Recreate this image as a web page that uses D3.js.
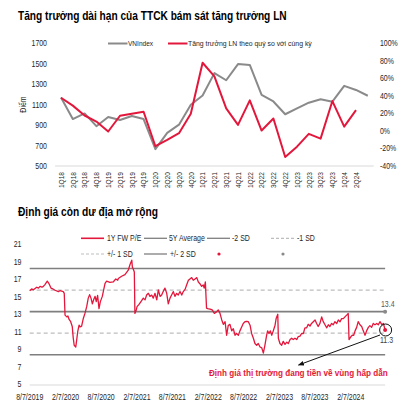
<!DOCTYPE html>
<html><head><meta charset="utf-8">
<script src="https://cdn.jsdelivr.net/npm/d3@7"></script>
<style>
body{margin:0;background:#fff}
svg text{font-family:'Liberation Sans',Arial,sans-serif;fill:#262626}
</style>
</head><body>
<svg id="c" width="403" height="407"></svg>
<script>
// ---------- Chart 1 data ----------
const categories = ["1Q18","2Q18","3Q18","4Q18","1Q19","2Q19","3Q19","4Q19","1Q20","2Q20","3Q20","4Q20","1Q21","2Q21","3Q21","4Q21","1Q22","2Q22","3Q22","4Q22","1Q23","2Q23","3Q23","4Q23","1Q24","2Q24","3Q24"];
const tickLabels = ["1Q18","2Q18","3Q18","4Q18","1Q19","2Q19","3Q19","4Q19","1Q20","2Q20","3Q20","4Q20","1Q21","2Q21","3Q21","4Q21","1Q22","2Q22","3Q22","4Q22","1Q23","2Q23","3Q23","4Q23","1Q24","2Q24"];
const vnindex = [1170,960,1015,890,980,950,990,960,665,825,905,1100,1190,1410,1340,1498,1490,1197,1132,1007,1064,1120,1154,1130,1285,1245,1188];
const profitGrowth = [38,29,17.7,10.8,-0.6,17.4,19.7,22,-17.4,-10.2,-2.5,19.7,78,62.5,25.8,7,35,0.5,14.3,-29.7,-17.9,-3.3,-8.7,34.2,5,23.9];
const leftTicks = [500,700,900,1100,1300,1500,1700];
const rightTicks = [-40,-20,0,20,40,60,80,100];

// ---------- Chart 2 data ----------
const peDates = ["2019-08-07","2019-08-17","2019-08-26","2019-09-12","2019-09-21","2019-09-29","2019-10-09","2019-10-16","2019-10-24","2019-11-05","2019-11-14","2019-11-24","2019-12-04","2019-12-15","2020-01-01","2020-01-09","2020-01-18","2020-01-26","2020-01-31","2020-02-04","2020-02-13","2020-02-19","2020-02-24","2020-03-04","2020-03-12","2020-03-17","2020-03-22","2020-03-30","2020-04-04","2020-04-09","2020-04-16","2020-04-21","2020-04-29","2020-05-08","2020-05-16","2020-05-25","2020-06-02","2020-06-09","2020-06-16","2020-06-23","2020-07-01","2020-07-07","2020-07-13","2020-07-20","2020-07-27","2020-08-03","2020-08-13","2020-08-20","2020-08-27","2020-09-04","2020-09-21","2020-10-08","2020-10-21","2020-10-31","2020-11-03","2020-11-20","2020-12-07","2020-12-24","2021-01-02","2021-01-11","2021-01-14","2021-01-19","2021-01-24","2021-01-27","2021-02-03","2021-02-07","2021-02-17","2021-02-27","2021-03-11","2021-03-20","2021-03-28","2021-04-06","2021-04-14","2021-04-23","2021-05-01","2021-05-10","2021-05-19","2021-05-27","2021-06-05","2021-06-13","2021-06-21","2021-06-30","2021-07-09","2021-07-17","2021-07-26","2021-08-03","2021-08-12","2021-08-20","2021-08-29","2021-09-06","2021-09-15","2021-09-24","2021-10-02","2021-10-11","2021-10-19","2021-10-28","2021-11-05","2021-11-14","2021-11-22","2021-12-01","2021-12-10","2021-12-18","2021-12-26","2022-01-04","2022-01-12","2022-01-17","2022-01-23","2022-01-29","2022-02-04","2022-02-16","2022-02-27","2022-03-10","2022-03-22","2022-03-30","2022-04-08","2022-04-17","2022-04-25","2022-05-04","2022-05-12","2022-05-20","2022-05-29","2022-06-07","2022-06-15","2022-06-24","2022-07-02","2022-07-11","2022-07-19","2022-07-28","2022-08-05","2022-08-14","2022-08-23","2022-08-31","2022-09-09","2022-09-17","2022-09-26","2022-10-04","2022-10-13","2022-10-21","2022-10-30","2022-11-08","2022-11-16","2022-11-24","2022-12-03","2022-12-08","2022-12-15","2022-12-22","2022-12-29","2023-01-06","2023-01-15","2023-01-21","2023-01-29","2023-02-01","2023-02-09","2023-02-18","2023-02-26","2023-03-07","2023-03-16","2023-03-24","2023-04-02","2023-04-10","2023-04-18","2023-04-27","2023-05-06","2023-05-14","2023-05-23","2023-05-31","2023-06-09","2023-06-17","2023-06-26","2023-07-04","2023-07-13","2023-07-21","2023-07-30","2023-08-08","2023-08-16","2023-08-24","2023-09-02","2023-09-11","2023-09-19","2023-09-28","2023-10-07","2023-10-15","2023-10-23","2023-11-01","2023-11-09","2023-11-18","2023-11-27","2023-12-05","2023-12-14","2023-12-22","2023-12-31","2024-01-08","2024-01-17","2024-01-25","2024-01-29","2024-02-08","2024-02-15","2024-02-22","2024-02-29","2024-03-08","2024-03-16","2024-03-25","2024-04-03","2024-04-11","2024-04-20","2024-04-28","2024-05-07","2024-05-15","2024-05-24","2024-06-01","2024-06-10","2024-06-19","2024-06-27","2024-07-06","2024-07-15","2024-07-23","2024-08-01"];
const peValues = [15.8,16.0,15.9,16.2,16.1,16.3,16.2,16.3,16.5,16.9,16.6,16.1,16.0,15.85,15.7,15.8,15.75,15.7,15.5,13.0,12.8,12.9,12.55,12.25,11.7,10.4,9.55,9.35,10.2,11.1,11.85,11.65,11.75,12.65,13.2,13.97,14.95,15.35,14.95,14.3,14.85,15.15,14.55,15.25,13.75,14.55,15.15,15.9,16.65,16.9,16.75,16.8,17.15,17.0,17.2,17.45,17.65,18.15,18.8,19.3,18.5,18.25,17.95,13.2,13.6,13.97,14.23,14.55,14.95,14.75,15.3,15.5,15.15,15.3,14.95,15.5,14.75,15.9,15.15,15.3,15.7,16.1,15.5,14.3,14.95,15.3,15.7,15.15,15.5,15.3,15.7,15.3,15.7,15.95,16.45,17.0,17.15,17.3,17.0,17.15,17.3,16.8,16.6,16.3,16.45,16.1,16.8,13.8,13.75,13.7,13.6,13.2,13.4,13.6,13.2,12.45,11.95,12.25,10.7,11.8,11.95,11.2,11.45,10.7,10.9,10.7,11.2,11.65,12.05,12.25,12.3,12.25,11.85,10.9,10.35,9.75,9.55,9.75,9.35,9.25,8.65,9.55,10.7,11.2,10.9,11.2,10.7,11.2,11.85,12.65,13.1,10.35,9.75,9.55,10.0,9.65,9.9,9.75,10.2,10.35,10.2,10.35,10.2,10.55,10.6,10.9,10.9,11.55,11.55,11.95,11.75,12.05,12.25,12.45,12.05,11.7,12.05,12.8,12.25,11.9,11.55,11.9,11.7,12.05,11.9,12.25,12.05,12.45,12.25,12.6,12.6,12.8,13.0,13.2,10.2,10.55,10.7,10.7,11.2,11.6,12.25,11.9,11.7,11.2,10.7,11.2,11.6,11.8,11.6,12.05,11.9,12.05,11.9,12.25,11.9,12.05,11.3];
const bandLevels = [18.35,15.87,13.4,10.93,8.46];
const bandKinds = ["solid","dashed","solid","dashed","solid"];
const peTicks = [5,7,9,11,13,15,17,19,21];
const dateTicks = ["2019-08-07","2020-02-07","2020-08-07","2021-02-07","2021-08-07","2022-02-07","2022-08-07","2023-02-07","2023-08-07","2024-02-07"];
const avgLabel = "13.4", lastLabel = "11.3";

const RED = "#e3173c", GRAY = "#7f7f7f", LIGHT = "#bdbdbd";
const svg = d3.select("#c");
const NARROW = 0.82;

function txt(x, y, s, o = {}) {
  const t = svg.append("text").attr("x", 0).attr("y", 0).attr("dy", "0.35em")
    .attr("font-size", o.size || 8).attr("text-anchor", o.anchor || "start").text(s);
  if (o.bold) t.attr("font-weight", "bold");
  if (o.fill) t.style("fill", o.fill);
  const w = t.node().getComputedTextLength();
  const sx = o.len ? o.len / w : NARROW;
  let tr = `translate(${x},${y})`;
  if (o.rotate) tr += ` rotate(${o.rotate})`;
  tr += ` scale(${sx.toFixed(4)},1)`;
  t.attr("transform", tr);
  return t;
}

// ================= Chart 1 =================
txt(18, 15.5, "Tăng trưởng dài hạn của TTCK bám sát tăng trưởng LN", {size: 12.5, bold: true, fill: "#000", len: 269});

const x1 = d3.scaleBand().domain(categories).range([55.1, 373.7]).padding(0);
const cx = c => x1(c) + x1.bandwidth() / 2;
const yL = d3.scaleLinear().domain([500, 1700]).range([166, 43.5]);
const yR = d3.scaleLinear().domain([-40, 100]).range([166, 43.5]);

svg.append("line").attr("x1", x1.range()[0]).attr("x2", x1.range()[1])
  .attr("y1", yL(500)).attr("y2", yL(500)).attr("stroke", "#d9d9d9").attr("stroke-width", 1);

leftTicks.forEach(v => txt(47, yL(v), d3.format("d")(v), {anchor: "end", size: 8.5}));
rightTicks.forEach(v => txt(380, yR(v), v + "%", {size: 8.5}));
txt(23, 104.5, "Điểm", {size: 8.5, anchor: "middle", rotate: -90});
tickLabels.forEach(c => txt(cx(c), 172, c, {size: 8, anchor: "end", rotate: -90}));

svg.append("path")
  .attr("d", d3.line().x((d, i) => cx(categories[i])).y(d => yL(d))(vnindex))
  .attr("fill", "none").attr("stroke", "#8a8a8a").attr("stroke-width", 2).attr("stroke-linejoin", "round");
svg.append("path")
  .attr("d", d3.line().x((d, i) => cx(categories[i])).y(d => yR(d))(profitGrowth))
  .attr("fill", "none").attr("stroke", RED).attr("stroke-width", 2).attr("stroke-linejoin", "round");

// legend 1
svg.append("line").attr("x1", 108).attr("x2", 127.5).attr("y1", 43.5).attr("y2", 43.5).attr("stroke", "#8a8a8a").attr("stroke-width", 2);
txt(128, 43.5, "VNIndex", {size: 8});
svg.append("line").attr("x1", 168).attr("x2", 187.5).attr("y1", 43.5).attr("y2", 43.5).attr("stroke", RED).attr("stroke-width", 2);
txt(188, 43.5, "Tăng trưởng LN theo quý so với cùng kỳ", {size: 8, len: 124});

// ================= Chart 2 =================
txt(18, 211.5, "Định giá còn dư địa mở rộng", {size: 12.5, bold: true, fill: "#000", len: 140});

const parse = d3.timeParse("%Y-%m-%d");
const pe = peDates.map((d, i) => ({date: parse(d), v: peValues[i]}));
const x2 = d3.scaleTime().domain([parse("2019-08-07"), parse("2024-08-07")]).range([29.7, 386.3]);
const y2 = d3.scaleLinear().domain([5, 21]).range([385, 245.3]);
const xStart = x2(pe[0].date), xEnd = x2(pe[pe.length - 1].date);

svg.append("line").attr("x1", xStart).attr("x2", xEnd).attr("y1", y2(5)).attr("y2", y2(5))
  .attr("stroke", "#d9d9d9").attr("stroke-width", 1);

bandLevels.forEach((v, i) => {
  const l = svg.append("line").attr("x1", xStart).attr("x2", xEnd).attr("y1", y2(v)).attr("y2", y2(v));
  if (bandKinds[i] === "solid") l.attr("stroke", GRAY).attr("stroke-width", 1.6);
  else l.attr("stroke", LIGHT).attr("stroke-width", 1.2).attr("stroke-dasharray", "4,3");
});

peTicks.forEach(v => txt(21.5, y2(v) - 1, v, {anchor: "end", size: 8.5}));
const fmt = d3.timeFormat("%-m/%-d/%Y");
dateTicks.forEach(d => txt(x2(parse(d)), 397, fmt(parse(d)), {anchor: "middle", size: 8.5}));

svg.append("path").attr("d", d3.line().x(d => x2(d.date)).y(d => y2(d.v))(pe))
  .attr("fill", "none").attr("stroke", RED).attr("stroke-width", 1.3).attr("stroke-linejoin", "round");

// end markers
const last = pe[pe.length - 1];
svg.append("circle").attr("cx", xEnd).attr("cy", y2(bandLevels[2])).attr("r", 2).attr("fill", "#8a8a8a");
svg.append("circle").attr("cx", xEnd).attr("cy", y2(last.v)).attr("r", 2).attr("fill", RED);
svg.append("circle").attr("cx", xEnd + 0.5).attr("cy", y2(last.v)).attr("r", 6).attr("fill", "none").attr("stroke", "#111").attr("stroke-width", 1);
txt(381, 304.5, avgLabel, {size: 8.5, fill: "#595959"});
txt(380, 340, lastLabel, {size: 8.5, fill: "#404040"});

// arrow
const defs = svg.append("defs");
defs.append("marker").attr("id", "ah").attr("viewBox", "0 0 10 10").attr("refX", 9).attr("refY", 5)
  .attr("markerWidth", 6).attr("markerHeight", 6).attr("orient", "auto")
  .append("path").attr("d", "M0,1 L10,5 L0,9 z").attr("fill", "#111");
svg.append("line").attr("x1", 380).attr("y1", 335).attr("x2", 298.5).attr("y2", 365)
  .attr("stroke", "#111").attr("stroke-width", 1).attr("marker-end", "url(#ah)");
txt(209, 372.5, "Định giá thị trường đang tiền về vùng hấp dẫn", {size: 9.5, bold: true, fill: RED, len: 179});

// legend 2
function legLine(x, y, kind, color) {
  const l = svg.append("line").attr("x1", x).attr("x2", x + 23).attr("y1", y).attr("y2", y);
  if (kind === "dashed") l.attr("stroke", LIGHT).attr("stroke-width", 1.2).attr("stroke-dasharray", "3,2");
  else l.attr("stroke", color).attr("stroke-width", kind === "thick" ? 1.6 : 1.3);
}
legLine(81, 238.3, "thick", RED);  txt(107, 238.3, "1Y FW P/E", {size: 8.5});
legLine(144, 238.3, "solid", GRAY); txt(169, 238.3, "5Y Average", {size: 8.5});
legLine(207, 238.3, "solid", GRAY); txt(232, 238.3, "-2 SD", {size: 8.5});
legLine(271, 238.3, "dashed");      txt(297, 238.3, "-1 SD", {size: 8.5});
legLine(81, 254, "dashed");         txt(107, 254, "+/- 1 SD", {size: 8.5});
legLine(144, 254, "solid", GRAY);   txt(170, 254, "+/- 2 SD", {size: 8.5});
svg.append("circle").attr("cx", 219).attr("cy", 254).attr("r", 1.6).attr("fill", RED);
svg.append("circle").attr("cx", 283).attr("cy", 254).attr("r", 1.6).attr("fill", "#8a8a8a");
</script>
</body></html>
